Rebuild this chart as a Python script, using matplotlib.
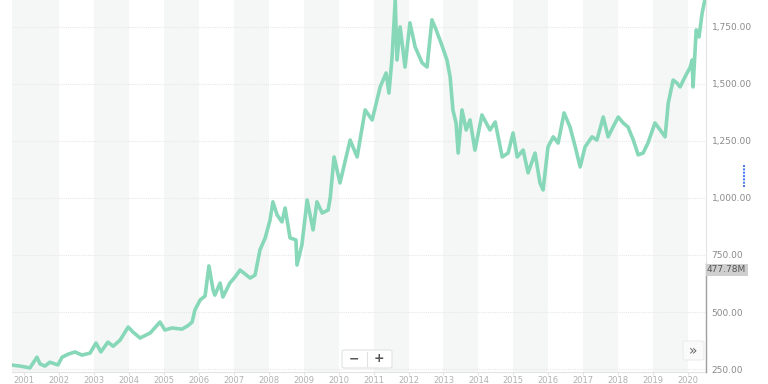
import numpy as np
import matplotlib
matplotlib.use('Agg')
import matplotlib.pyplot as plt
from matplotlib.patches import FancyBboxPatch

# price series (decimal year, price)
years = [2000.66, 2000.89, 2001.17, 2001.37, 2001.46, 2001.60, 2001.74, 2001.97,
         2002.09, 2002.26, 2002.46, 2002.66, 2002.89, 2003.06, 2003.20, 2003.40,
         2003.55, 2003.75, 2003.98, 2004.12, 2004.32, 2004.61, 2004.89, 2005.03,
         2005.23, 2005.52, 2005.69, 2005.81, 2005.89, 2006.04, 2006.18, 2006.29,
         2006.41, 2006.46, 2006.61, 2006.69, 2006.89, 2007.04, 2007.18, 2007.47,
         2007.61, 2007.75, 2007.90, 2008.04, 2008.12, 2008.24, 2008.38, 2008.47,
         2008.61, 2008.78, 2008.81, 2008.95, 2009.10, 2009.27, 2009.38, 2009.53,
         2009.70, 2009.76, 2009.87, 2010.04, 2010.33, 2010.53, 2010.76, 2010.96,
         2011.19, 2011.36, 2011.44, 2011.53, 2011.62, 2011.67, 2011.76, 2011.90,
         2012.04, 2012.19, 2012.39, 2012.53, 2012.67, 2012.79, 2012.93, 2013.10,
         2013.19, 2013.27, 2013.36, 2013.42, 2013.53, 2013.65, 2013.76, 2013.90,
         2014.10, 2014.33, 2014.48, 2014.68, 2014.85, 2014.99, 2015.11, 2015.28,
         2015.42, 2015.62, 2015.76, 2015.85, 2015.99, 2016.14, 2016.28, 2016.45,
         2016.62, 2016.77, 2016.91, 2017.05, 2017.25, 2017.39, 2017.57, 2017.71,
         2017.85, 2018.00, 2018.14, 2018.28, 2018.43, 2018.57, 2018.71, 2018.85,
         2019.05, 2019.20, 2019.34, 2019.43, 2019.57, 2019.68, 2019.77, 2019.91,
         2020.06, 2020.11, 2020.14, 2020.23, 2020.31, 2020.40, 2020.48]
prices = [267, 263, 255, 302, 272, 263, 280, 268,
          302, 315, 325, 311, 320, 364, 325, 368,
          350, 377, 434, 412, 386, 408, 456, 421,
          430, 425, 440, 456, 509, 553, 570, 702,
          596, 574, 627, 566, 627, 654, 684, 649,
          662, 772, 825, 904, 983, 926, 895, 956,
          825, 816, 706, 794, 991, 860, 983, 934,
          947, 1000, 1180, 1066, 1254, 1180, 1386, 1342,
          1487, 1548, 1460, 1618, 1868, 1605, 1750, 1574,
          1768, 1662, 1592, 1574, 1781, 1737, 1680, 1605,
          1531, 1386, 1329, 1197, 1386, 1298, 1342, 1210,
          1364, 1298, 1333, 1180, 1197, 1285, 1180, 1210,
          1110, 1197, 1066, 1035, 1224, 1268, 1241, 1373,
          1311, 1224, 1136, 1224, 1268, 1254, 1355, 1268,
          1311, 1355, 1329, 1311, 1254, 1189, 1197, 1241,
          1329, 1298, 1268, 1416, 1517, 1504, 1487, 1531,
          1574, 1605, 1487, 1737, 1706, 1811, 1870]

year_ticks = list(range(2001, 2021))
price_ticks = [250, 500, 750, 1000, 1250, 1500, 1750]
volume_label = '477.78M'

fig = plt.figure(figsize=(7.68, 3.84), dpi=100)
ax = fig.add_axes([12/768, 12/384, 694/768, 372/384])
ax.set_xlim(2000.657, 2020.51)
ax.set_ylim(237, 1868)

# alternating year bands
ax.axvspan(2000.0, 2002, color='#f5f7f7', zorder=0, lw=0)
for y0 in range(2003, 2021, 2):
    ax.axvspan(y0, y0 + 1, color='#f5f7f7', zorder=0, lw=0)

for p in price_ticks:
    ax.axhline(p, color='#e8e8e8', lw=0.8, ls=(0, (1, 1)), zorder=1)

ax.plot(years, prices, color='#86d8b8', lw=2.6, zorder=3, solid_joinstyle='round')

for s in ['top', 'left']:
    ax.spines[s].set_visible(False)
ax.spines['bottom'].set_color('#e3e3e3')
ax.spines['right'].set_color('#e3e3e3')

ax.set_xticks(year_ticks)
ax.set_xticklabels([str(y) for y in year_ticks])
ax.yaxis.tick_right()
ax.set_yticks(price_ticks)
ax.set_yticklabels(['{:,.2f}'.format(p) for p in price_ticks])
ax.tick_params(axis='x', colors='#e3e3e3', labelcolor='#b0b0b0', labelsize=6,
               length=2, pad=1)
ax.tick_params(axis='y', colors='#e3e3e3', labelcolor='#8a8a8a', labelsize=6.5,
               length=0, pad=4)

# volume indicator on the right axis
fig.add_artist(plt.Line2D([706/768, 706/768], [12/384, 120/384], color='#a0a0a0', lw=1))
fig.text(707/768, 1 - 270/384, volume_label, fontsize=6.5, color='#555555', va='center',
         ha='left', bbox=dict(boxstyle='square,pad=0.15', fc='#cfcfcf', ec='none'))
fig.add_artist(plt.Line2D([744/768, 744/768], [1 - 165/384, 1 - 188/384],
                          color='#4f7ff0', lw=1.5, ls=(0, (1, 0.6))))

# zoom buttons
fig.add_artist(FancyBboxPatch((342/768, 1 - 368/384), 50/768, 18/384,
                              boxstyle='round,pad=0,rounding_size=0.004',
                              fc='white', ec='#e2e2e2', lw=0.8, zorder=5))
fig.add_artist(plt.Line2D([367/768, 367/768], [1 - 366/384, 1 - 352/384], color='#e2e2e2', lw=0.8, zorder=6))
fig.text(354/768, 1 - 359/384, '\u2212', fontsize=9, color='#555555', ha='center', va='center',
         fontweight='bold', zorder=7)
fig.text(379/768, 1 - 359/384, '+', fontsize=9, color='#555555', ha='center', va='center',
         fontweight='bold', zorder=7)
fig.add_artist(FancyBboxPatch((683/768, 1 - 360/384), 21/768, 19/384,
                              boxstyle='round,pad=0,rounding_size=0.004',
                              fc='#fafafa', ec='#ececec', lw=0.8, zorder=5))
fig.text(693/768, 1 - 351/384, '\u00bb', fontsize=10, color='#666666', ha='center', va='center',
         zorder=7)

fig.savefig('out.png', dpi=100)
